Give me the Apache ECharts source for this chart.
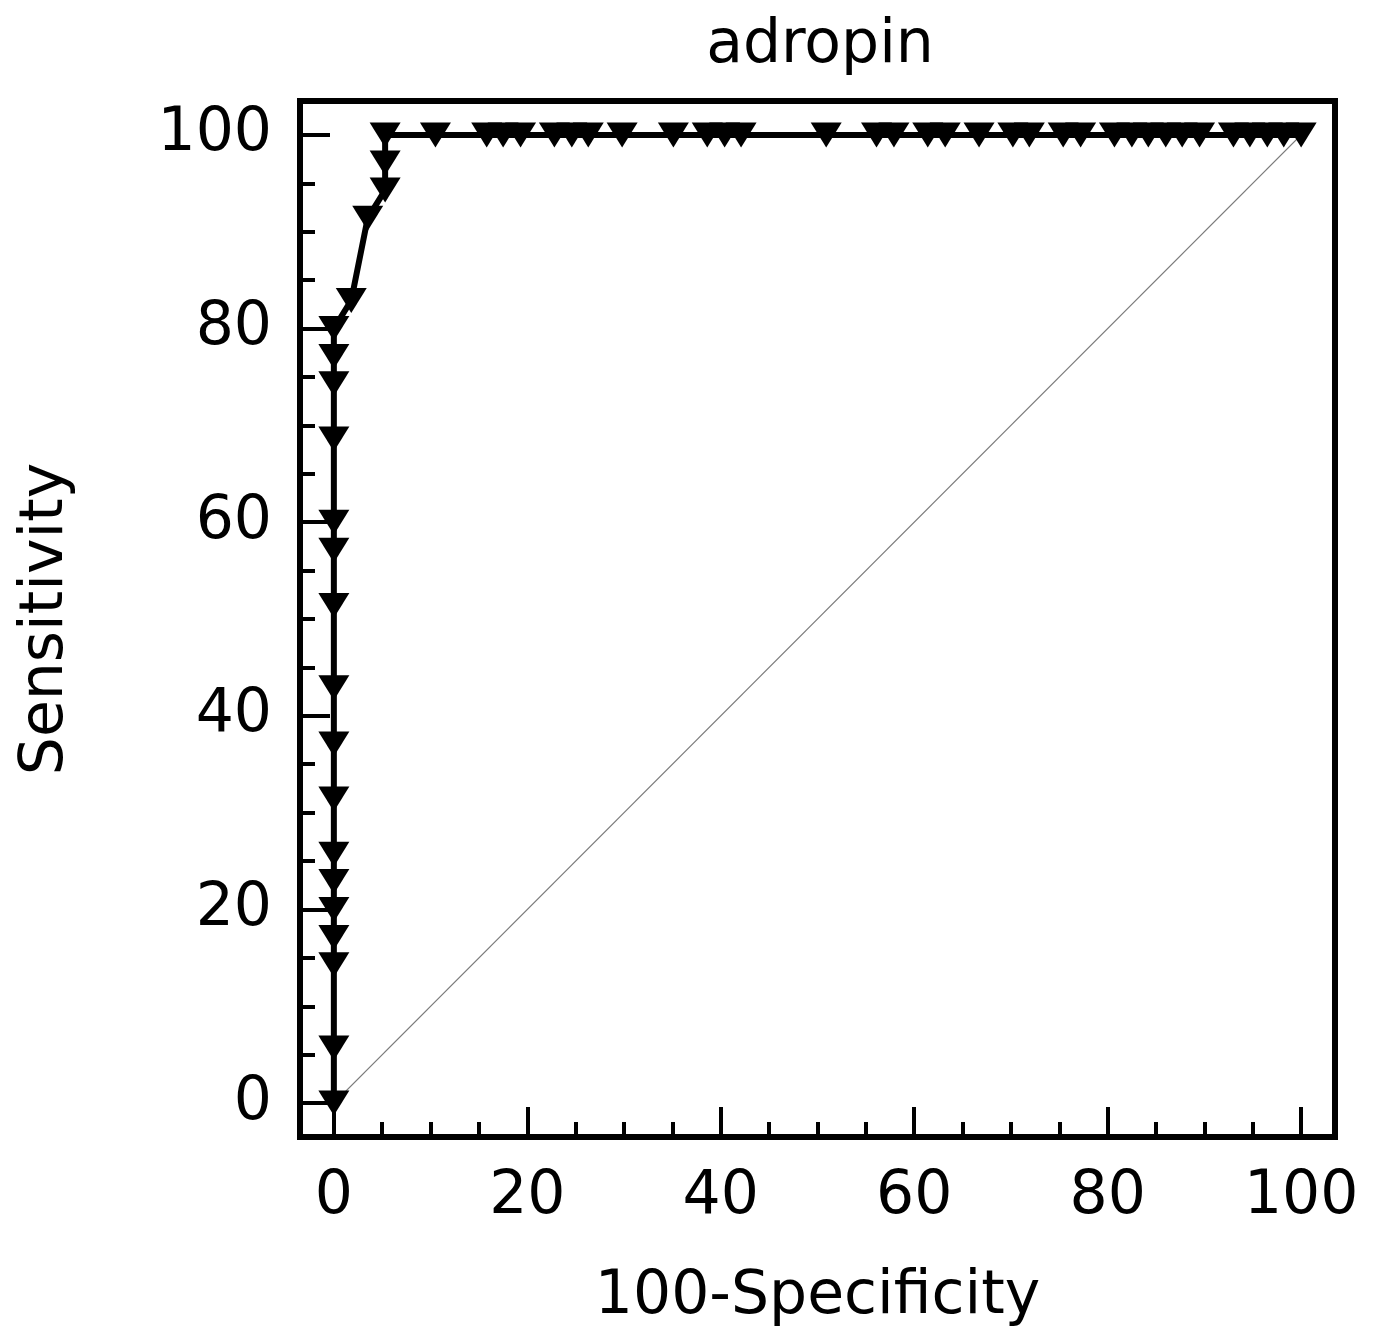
<!DOCTYPE html>
<html>
<head>
<meta charset="utf-8">
<script src="https://cdn.jsdelivr.net/npm/echarts@6/dist/echarts.min.js"></script>
<style>
  html, body { margin: 0; padding: 0; background: #fff; }
  #main { width: 1376px; height: 1344px; }
</style>
</head>
<body>
<div id="main"></div>
<script>
// ROC points (100-Specificity, Sensitivity)
var rocX = [0, 0, 0, 0, 0, 0, 0, 0, 0, 0, 0, 0, 0, 0, 0, 0, 0, 1.8, 3.5, 5.3, 5.3, 5.3,
  10.5, 15.8, 17.5, 19.3, 22.8, 24.6, 26.3, 29.8, 35.1, 38.6, 40.4, 42.1, 50.9, 56.1, 57.9,
  61.4, 63.2, 66.7, 70.2, 71.9, 75.4, 77.2, 80.7, 82.5, 84.2, 86.0, 87.7, 89.5, 93.0, 94.7,
  96.5, 98.2, 100];
var rocY = [0, 5.7, 14.3, 17.1, 20, 22.9, 25.7, 31.4, 37.1, 42.9, 51.4, 57.1, 60, 68.6, 74.3,
  77.1, 80, 82.9, 91.4, 94.3, 97.1, 100,
  100, 100, 100, 100, 100, 100, 100, 100, 100, 100, 100, 100, 100, 100, 100,
  100, 100, 100, 100, 100, 100, 100, 100, 100, 100, 100, 100, 100, 100, 100,
  100, 100, 100];
var diagX = [0, 100];
var diagY = [0, 100];
var majorTicks = [0, 20, 40, 60, 80, 100];
var minorTicks = [5, 10, 15, 25, 30, 35, 45, 50, 55, 65, 70, 75, 85, 90, 95];

var font = "DejaVu Sans";
var fs = 60;

var chart = echarts.init(document.getElementById("main"));

function majorAxis(extra) {
  return Object.assign({
    type: "value",
    min: -3.5,
    max: 103.5,
    splitLine: { show: false },
    axisLine: { show: true, onZero: false, lineStyle: { color: "#000", width: 6 } },
    axisTick: { show: true, inside: true, length: 30, customValues: majorTicks, lineStyle: { color: "#000", width: 4 } },
    nameLocation: "middle",
    nameTextStyle: { color: "#000", fontFamily: font, fontSize: fs }
  }, extra);
}
function minorAxis(extra) {
  return Object.assign({
    type: "value",
    min: -3.5,
    max: 103.5,
    splitLine: { show: false },
    axisLine: { show: false, onZero: false },
    axisTick: { show: true, inside: true, length: 15, customValues: minorTicks, lineStyle: { color: "#000", width: 4 } },
    axisLabel: { show: false }
  }, extra);
}

var rocData = rocX.map(function (x, i) { return [x, rocY[i]]; });
var diagData = diagX.map(function (x, i) { return [x, diagY[i]]; });

var option = {
  animation: false,
  backgroundColor: "#fff",
  title: {
    text: "adropin",
    left: 815,
    top: 11,
    textAlign: "center",
    textStyle: { color: "#000", fontFamily: font, fontSize: fs, fontWeight: "normal" }
  },
  grid: {
    left: 300,
    right: 41,
    top: 101,
    bottom: 207,
    show: true,
    borderColor: "#000",
    borderWidth: 6,
    backgroundColor: "transparent"
  },
  xAxis: [
    majorAxis({ position: "bottom", name: "100-Specificity", nameGap: 130,
      axisLabel: { show: true, customValues: majorTicks, color: "#000", fontFamily: font, fontSize: fs, margin: 30 } }),
    minorAxis({ position: "bottom" })
  ],
  yAxis: [
    majorAxis({ position: "left", name: "Sensitivity", nameGap: 224,
      axisLabel: { show: true, customValues: majorTicks, color: "#000", fontFamily: font, fontSize: fs, margin: 28 } }),
    minorAxis({ position: "left" })
  ],
  series: [
    {
      type: "line",
      data: diagData,
      symbol: "none",
      lineStyle: { color: "#7a7a7a", width: 1.3 },
      z: 1
    },
    {
      type: "line",
      data: rocData,
      symbol: "triangle",
      symbolRotate: 180,
      symbolSize: [31, 25],
      itemStyle: { color: "#000" },
      lineStyle: { color: "#000", width: 6 },
      clip: false,
      z: 3
    }
  ]
};
option && chart.setOption(option);
</script>
</body>
</html>
